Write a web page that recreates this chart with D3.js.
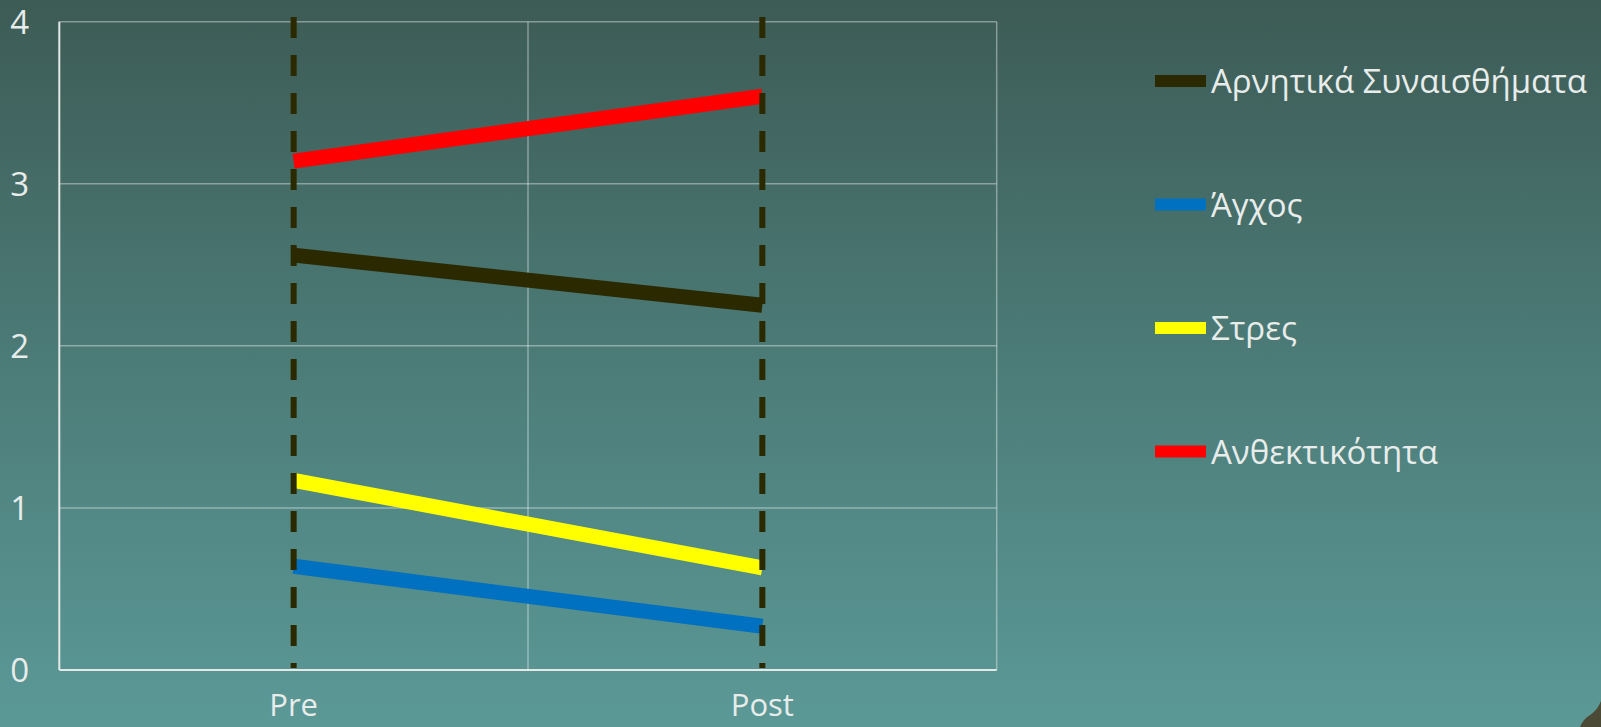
<!DOCTYPE html>
<html>
<head>
<meta charset="utf-8">
<script src="https://cdn.jsdelivr.net/npm/d3@7"></script>
<style>
  html, body { margin: 0; padding: 0; background: #4b7b76; }
  svg { display: block; }
  text { font-family: "Open Sans", "Noto Sans", sans-serif; fill: #e8ecea; }
</style>
</head>
<body>
<svg id="chart" width="1601" height="727"></svg>
<script>
// Measurement occasions on the category axis
const categories = ["Pre", "Post"];

// Series names, colours and mean scores (Pre, Post)
const seriesNames  = ["Αρνητικά Συναισθήματα", "Άγχος", "Στρες", "Ανθεκτικότητα"];
const seriesColors = ["#2b2900", "#0070c0", "#ffff00", "#ff0000"];
const negEmotions  = [2.56, 2.25];
const anxiety      = [0.64, 0.27];
const stress       = [1.17, 0.63];
const resilience   = [3.14, 3.54];
const seriesValues = [negEmotions, anxiety, stress, resilience];

// Value-axis ticks
const yTicks = [0, 1, 2, 3, 4];

const svg = d3.select("#chart");
const W = 1601, H = 727;

// Slide background gradient
const defs = svg.append("defs");
const grad = defs.append("linearGradient")
  .attr("id", "bg").attr("x1", 0).attr("y1", 0).attr("x2", 0).attr("y2", 1);
grad.append("stop").attr("offset", "0%").attr("stop-color", "#3d5b55");
grad.append("stop").attr("offset", "50%").attr("stop-color", "#4c7c78");
grad.append("stop").attr("offset", "100%").attr("stop-color", "#5b9997");
svg.append("rect").attr("width", W).attr("height", H).attr("fill", "url(#bg)");

// Corner ornament of the slide
svg.append("path")
  .attr("d", "M1601,701 C1599,706 1596,711 1590,715 C1585,718 1582,722 1580,727 L1601,727 Z")
  .attr("fill", "#4a4a36");

const plot = { left: 59.3, right: 996.7, top: 21.7, bottom: 670 };

const y = d3.scaleLinear().domain([0, 4]).range([plot.bottom, plot.top]);
const x = d3.scalePoint().domain(categories).range([plot.left, plot.right]).padding(0.5);
const xBand = d3.scaleBand().domain(categories).range([plot.left, plot.right]).padding(0);

// Horizontal gridlines
svg.append("g")
  .selectAll("line")
  .data(yTicks.filter(d => d > 0))
  .join("line")
  .attr("x1", plot.left).attr("x2", plot.right)
  .attr("y1", d => y(d)).attr("y2", d => y(d))
  .attr("stroke", "rgba(255,255,255,0.38)")
  .attr("stroke-width", 1.5);

// Vertical gridlines at category boundaries
const boundaries = categories.map(c => xBand(c)).concat([plot.right]);
svg.append("g")
  .selectAll("line")
  .data(boundaries.slice(1))
  .join("line")
  .attr("x1", d => d).attr("x2", d => d)
  .attr("y1", plot.top).attr("y2", plot.bottom)
  .attr("stroke", "rgba(255,255,255,0.38)")
  .attr("stroke-width", 1.5);

// Axis lines
svg.append("line")
  .attr("x1", plot.left).attr("x2", plot.left)
  .attr("y1", plot.top).attr("y2", plot.bottom)
  .attr("stroke", "#e4e8e6").attr("stroke-width", 2);
svg.append("line")
  .attr("x1", plot.left).attr("x2", plot.right)
  .attr("y1", plot.bottom).attr("y2", plot.bottom)
  .attr("stroke", "#e4e8e6").attr("stroke-width", 2);

// Y tick labels
svg.append("g")
  .selectAll("text")
  .data(yTicks)
  .join("text")
  .attr("x", 29)
  .attr("y", d => y(d) + 12)
  .attr("text-anchor", "end")
  .attr("font-size", 33)
  .text(d => d);

// X category labels
svg.append("g")
  .selectAll("text")
  .data(categories)
  .join("text")
  .attr("x", d => x(d))
  .attr("y", 716)
  .attr("text-anchor", "middle")
  .attr("font-size", 31)
  .text(d => d);

// Series lines
const line = d3.line()
  .x((d, i) => x(categories[i]))
  .y(d => y(d));

svg.append("g")
  .selectAll("path")
  .data(seriesValues)
  .join("path")
  .attr("d", d => line(d))
  .attr("fill", "none")
  .attr("stroke", (d, i) => seriesColors[i])
  .attr("stroke-width", 15)
  .attr("stroke-linecap", "butt");

// Dashed reference lines at each occasion
svg.append("g")
  .selectAll("line")
  .data(categories)
  .join("line")
  .attr("x1", d => x(d)).attr("x2", d => x(d))
  .attr("y1", 17).attr("y2", plot.bottom - 2)
  .attr("stroke", "#2b2900")
  .attr("stroke-width", 6)
  .attr("stroke-dasharray", "21,17");

// Legend
const legend = svg.append("g");
const legendTop = 81, legendStep = 123.5;
const rows = legend.selectAll("g")
  .data(seriesNames)
  .join("g")
  .attr("transform", (d, i) => `translate(1155,${legendTop + i * legendStep})`);
rows.append("rect")
  .attr("x", 0).attr("y", -6)
  .attr("width", 51).attr("height", 12)
  .attr("fill", (d, i) => seriesColors[i]);
rows.append("text")
  .attr("x", 56).attr("y", 12)
  .attr("font-size", 33)
  .text(d => d);
</script>
</body>
</html>
